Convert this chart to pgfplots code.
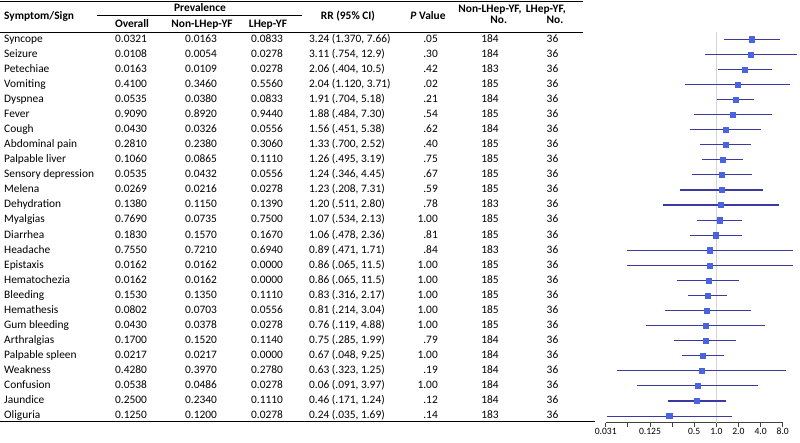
\documentclass[border=0pt]{standalone}
\usepackage{pgfplots}
\pgfplotsset{compat=1.18}
\usepackage{pgfplotstable}
\usepackage{fontspec}
\setmainfont{Carlito}
\definecolor{cil}{HTML}{3A3AA0}
\definecolor{mk}{HTML}{4A63DE}
\definecolor{refl}{HTML}{D4D4D4}
\pgfplotstableread{
y lo pt hi
-1 1.27 3.05 7.28
-2 0.70 2.96 12.5
-3 1.05 2.43 5.66
-4 0.373 1.93 9.97
-5 1.02 1.83 3.29
-6 0.495 1.68 5.66
-7 0.433 1.34 4.10
-8 0.598 1.34 2.93
-9 0.645 1.23 2.33
-10 0.461 1.18 3.03
-11 0.316 1.17 4.27
-12 0.190 1.16 7.12
-13 0.544 1.10 2.26
-14 0.433 0.98 2.26
-15 0.0612 0.818 11.05
-16 0.0612 0.818 11.05
-17 0.288 0.778 2.06
-18 0.410 0.761 1.39
-19 0.198 0.745 2.93
-20 0.111 0.708 4.65
-21 0.262 0.708 1.85
-22 0.340 0.657 1.27
-23 0.0442 0.625 8.79
-24 0.0838 0.562 3.73
-25 0.222 0.544 1.35
-26 0.0324 0.229 1.63
}\rrdata
\begin{document}
\begin{tikzpicture}[x=1pt,y=1pt,
  tb/.style={font=\fontsize{11.4}{13}\selectfont, inner sep=0pt, text height=8.1pt, text depth=2.4pt},
  hb/.style={tb, font=\fontsize{11.4}{13}\selectfont\bfseries}]
\useasboundingbox (0,0) rectangle (800,-443);
% rules
\draw[line width=1pt] (0,-1.2) -- (583,-1.2);
\draw[line width=0.7pt] (97,-15.5) -- (302,-15.5);
\draw[line width=0.7pt] (0,-32.7) -- (583,-32.7);
\draw[line width=0.8pt] (0,-421.5) -- (595,-421.5);
% header
\node[hb, anchor=west] at (4,-16.7) {Symptom/Sign};
\node[hb] at (200,-8.3) {Prevalence};
\node[hb] at (132,-25) {Overall};
\node[hb] at (202,-25) {Non-LHep-YF};
\node[hb] at (268,-25) {LHep-YF};
\node[hb] at (348,-16.7) {RR (95\% CI)};
\node[hb] at (428,-16.7) {\textit{P} Value};
\node[hb] at (490,-9.3) {Non-LHep-YF,};
\node[hb] at (498.7,-20.5) {No.};
\node[hb] at (545.8,-9.3) {LHep-YF,};
\node[hb] at (555,-20.5) {No.};
% body
\foreach \n/\a/\b/\c/\r/\p/\m/\l [count=\i] in {
 Syncope/0.0321/0.0163/0.0833/{3.24 (1.370, 7.66)}/.05/184/36,
 Seizure/0.0108/0.0054/0.0278/{3.11 (.754, 12.9)}/.30/184/36,
 Petechiae/0.0163/0.0109/0.0278/{2.06 (.404, 10.5)}/.42/183/36,
 Vomiting/0.4100/0.3460/0.5560/{2.04 (1.120, 3.71)}/.02/185/36,
 Dyspnea/0.0535/0.0380/0.0833/{1.91 (.704, 5.18)}/.21/184/36,
 Fever/0.9090/0.8920/0.9440/{1.88 (.484, 7.30)}/.54/185/36,
 Cough/0.0430/0.0326/0.0556/{1.56 (.451, 5.38)}/.62/184/36,
 Abdominal pain/0.2810/0.2380/0.3060/{1.33 (.700, 2.52)}/.40/185/36,
 Palpable liver/0.1060/0.0865/0.1110/{1.26 (.495, 3.19)}/.75/185/36,
 Sensory depression/0.0535/0.0432/0.0556/{1.24 (.346, 4.45)}/.67/185/36,
 Melena/0.0269/0.0216/0.0278/{1.23 (.208, 7.31)}/.59/185/36,
 Dehydration/0.1380/0.1150/0.1390/{1.20 (.511, 2.80)}/.78/183/36,
 Myalgias/0.7690/0.0735/0.7500/{1.07 (.534, 2.13)}/1.00/185/36,
 Diarrhea/0.1830/0.1570/0.1670/{1.06 (.478, 2.36)}/.81/185/36,
 Headache/0.7550/0.7210/0.6940/{0.89 (.471, 1.71)}/.84/183/36,
 Epistaxis/0.0162/0.0162/0.0000/{0.86 (.065, 11.5)}/1.00/185/36,
 Hematochezia/0.0162/0.0162/0.0000/{0.86 (.065, 11.5)}/1.00/185/36,
 Bleeding/0.1530/0.1350/0.1110/{0.83 (.316, 2.17)}/1.00/185/36,
 Hemathesis/0.0802/0.0703/0.0556/{0.81 (.214, 3.04)}/1.00/185/36,
 Gum bleeding/0.0430/0.0378/0.0278/{0.76 (.119, 4.88)}/1.00/185/36,
 Arthralgias/0.1700/0.1520/0.1140/{0.75 (.285, 1.99)}/.79/184/36,
 Palpable spleen/0.0217/0.0217/0.0000/{0.67 (.048, 9.25)}/1.00/184/36,
 Weakness/0.4280/0.3970/0.2780/{0.63 (.323, 1.25)}/.19/184/36,
 Confusion/0.0538/0.0486/0.0278/{0.06 (.091, 3.97)}/1.00/184/36,
 Jaundice/0.2500/0.2340/0.1110/{0.46 (.171, 1.24)}/.12/184/36,
 Oliguria/0.1250/0.1200/0.0278/{0.24 (.035, 1.69)}/.14/183/36}
{
 \pgfmathsetmacro\yy{-(39.3+(\i-1)*15.07)}
 \node[tb, anchor=west] at (4,\yy) {\n};
 \node[tb] at (131,\yy) {\a};
 \node[tb] at (201,\yy) {\b};
 \node[tb] at (267,\yy) {\c};
 \node[tb, anchor=west] at (309,\yy) {\r};
 \node[tb, anchor=east] at (438,\yy) {\p};
 \node[tb] at (490,\yy) {\m};
 \node[tb] at (552.5,\yy) {\l};
}
\begin{axis}[
  at={(605.7pt,-422.7pt)}, anchor=south west,
  scale only axis, width=177pt, height=391pt,
  xmode=log, log basis x=2,
  xmin=0.03125, xmax=8, ymin=-26.44, ymax=-0.5,
  axis x line=bottom, axis y line=none, clip=false,
  x axis line style={-, line width=0.8pt, black!75},
  xtick={0.03125,0.0625,0.125,0.25,0.5,1,2,4,8},
  xticklabels={0.031,,0.125,,0.5,1.0,2.0,4.0,8.0},
  xminorticks=false,
  tick align=outside, major tick length=4.5pt,
  tick style={line width=0.8pt, black!75},
  xticklabel style={font=\fontsize{9.6}{11}\selectfont, inner sep=1pt},
  /pgf/number format/assume math mode=true,
]
\addplot[refl, line width=0.8pt] coordinates {(1,-0.5) (1,-26.44)};
\addplot[cil, line width=1.1pt, unbounded coords=jump] coordinates {
(1.27,-1) (7.28,-1) (nan,nan)
(0.70,-2) (12.5,-2) (nan,nan)
(1.05,-3) (5.66,-3) (nan,nan)
(0.373,-4) (9.97,-4) (nan,nan)
(1.02,-5) (3.29,-5) (nan,nan)
(0.495,-6) (5.66,-6) (nan,nan)
(0.433,-7) (4.10,-7) (nan,nan)
(0.598,-8) (2.93,-8) (nan,nan)
(0.645,-9) (2.33,-9) (nan,nan)
(0.461,-10) (3.03,-10) (nan,nan)
(0.316,-11) (4.27,-11) (nan,nan)
(0.190,-12) (7.12,-12) (nan,nan)
(0.544,-13) (2.26,-13) (nan,nan)
(0.433,-14) (2.26,-14) (nan,nan)
(0.0612,-15) (11.05,-15) (nan,nan)
(0.0612,-16) (11.05,-16) (nan,nan)
(0.288,-17) (2.06,-17) (nan,nan)
(0.410,-18) (1.39,-18) (nan,nan)
(0.198,-19) (2.93,-19) (nan,nan)
(0.111,-20) (4.65,-20) (nan,nan)
(0.262,-21) (1.85,-21) (nan,nan)
(0.340,-22) (1.27,-22) (nan,nan)
(0.0442,-23) (8.79,-23) (nan,nan)
(0.0838,-24) (3.73,-24) (nan,nan)
(0.222,-25) (1.35,-25) (nan,nan)
(0.0324,-26) (1.63,-26)
};
\addplot[only marks, mark=square*, mark size=2.6pt, mark options={fill=mk, draw=mk}] table[x=pt, y=y]{\rrdata};
\end{axis}
\end{tikzpicture}
\end{document}
